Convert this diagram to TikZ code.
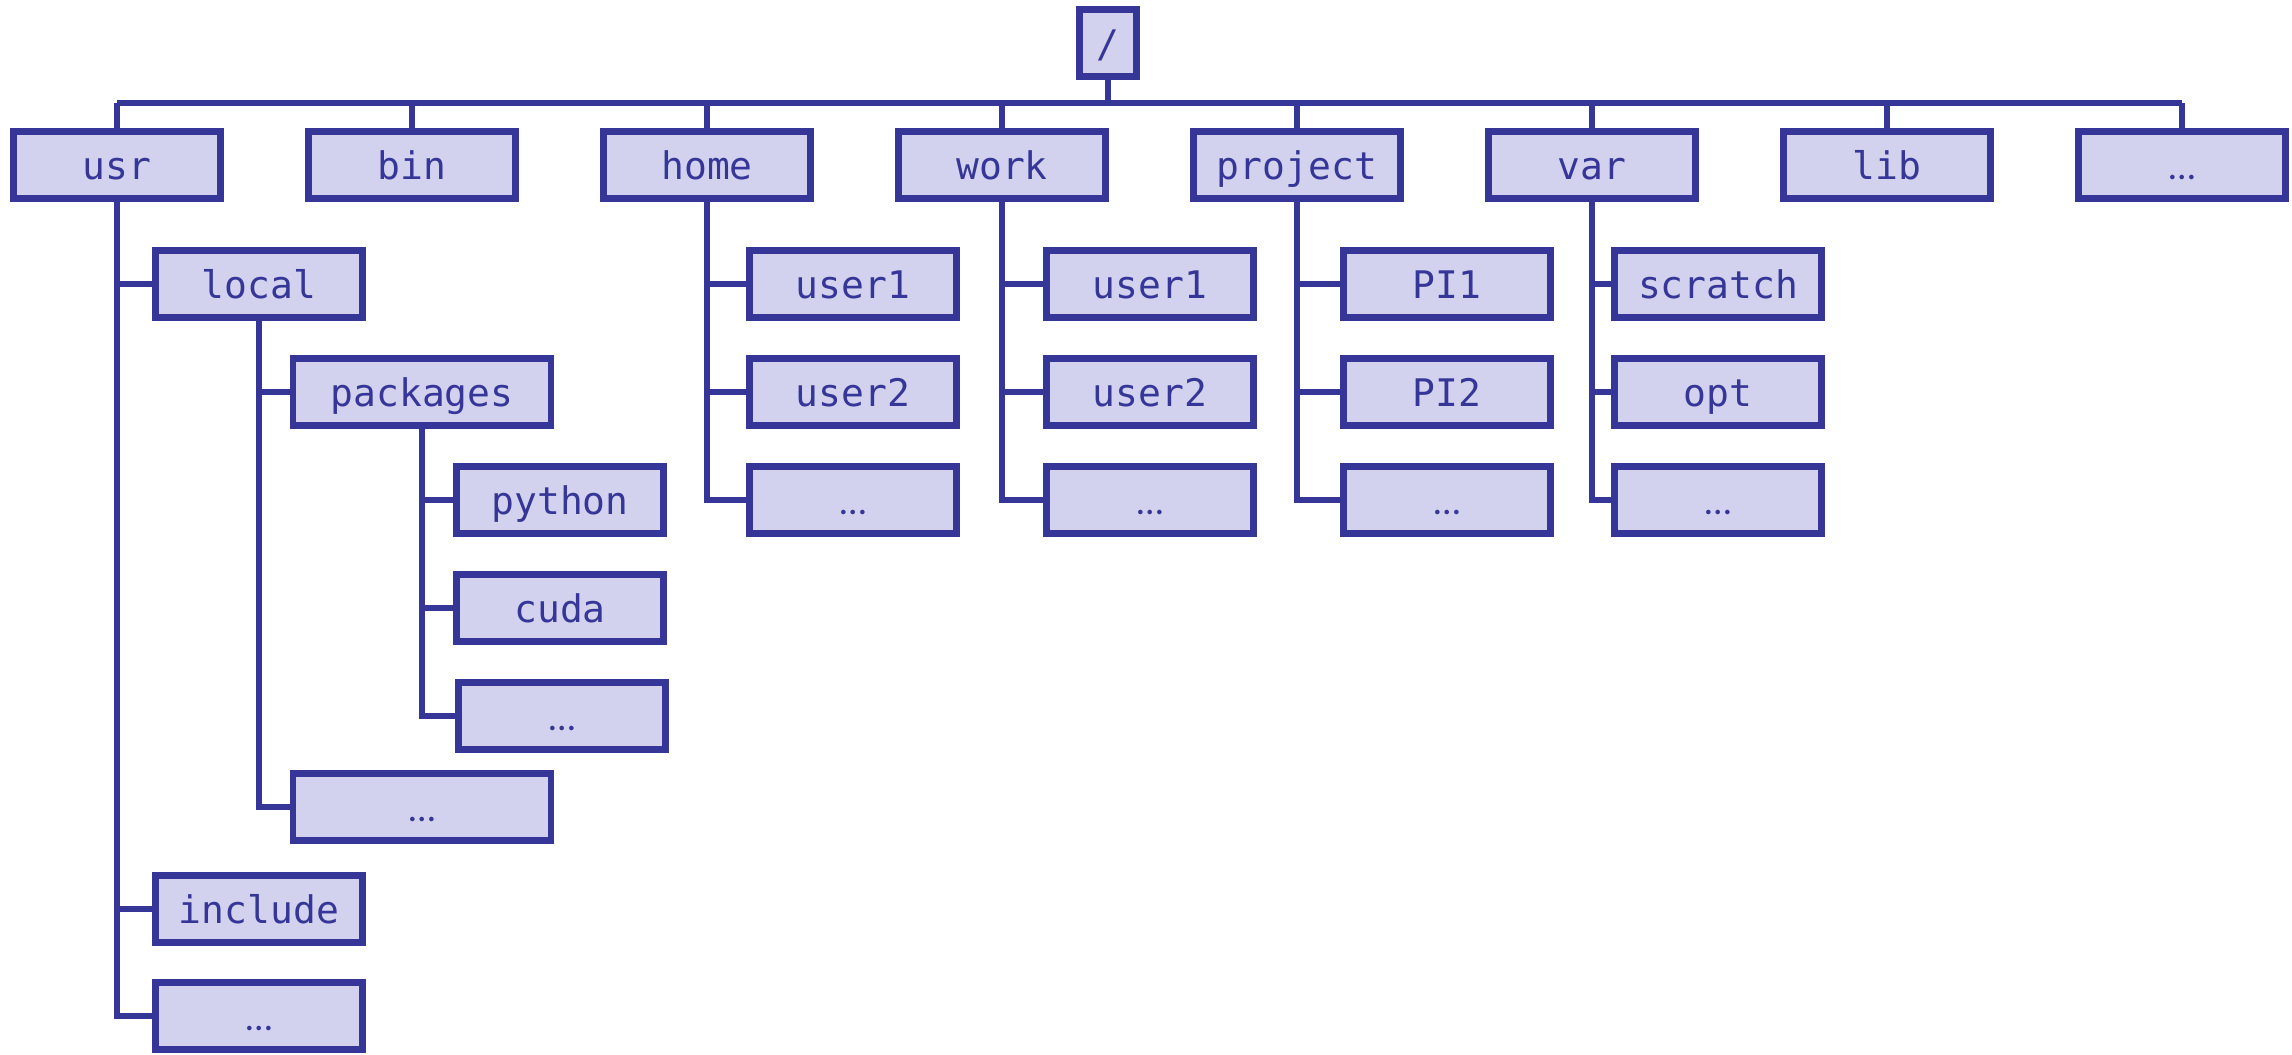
\documentclass[tikz,border=0pt]{standalone}
\usepackage{fontspec}
\setmonofont{DejaVu Sans Mono}
\newfontfamily\dotsfont{Carlito}
\newcommand{\etc}{{\dotsfont …}}
\definecolor{dirline}{HTML}{363699}
\definecolor{dirfill}{HTML}{D2D2EF}
\begin{document}
\begin{tikzpicture}[x=0.01cm,y=-0.01cm,
    dir/.style={draw=dirline,fill=dirfill,line width=0.065cm,text=dirline,
      font=\ttfamily\fontsize{10.8}{13}\selectfont,inner sep=0pt,
      text height=0.29cm,text depth=0pt,
      minimum width=2.07cm,minimum height=0.67cm},
    widedir/.style={dir,minimum width=2.58cm},
    link/.style={draw=dirline,line width=0.055cm}]
  \useasboundingbox (0,0) rectangle (2292,1054);
  \def\rowa{165} \def\bus{103}

  % root and first level
  \node (root) at (1108,43) [dir,minimum width=0.57cm] {/};
  \node (usr) at (117,\rowa) [dir] {usr};
  \node (bin) at (412,\rowa) [dir] {bin};
  \node (home) at (707,\rowa) [dir] {home};
  \node (work) at (1002,\rowa) [dir] {work};
  \node (project) at (1297,\rowa) [dir] {project};
  \node (var) at (1592,\rowa) [dir] {var};
  \node (lib) at (1887,\rowa) [dir] {lib};
  \node (more) at (2182,\rowa) [dir] {\etc};
  \coordinate (hub) at (1108,\bus);

  % usr
  \node (local) at (259,284) [dir] {local};
  \node (packages) at (422,392) [widedir] {packages};
  \node (python) at (560,500) [dir] {python};
  \node (cuda) at (560,608) [dir] {cuda};
  \node (pkgmore) at (562,716) [dir] {\etc};
  \node (localmore) at (422,807) [widedir] {\etc};
  \node (include) at (259,909) [dir] {include};
  \node (usrmore) at (259,1016) [dir] {\etc};

  % home, work, project, var
  \node (homea) at (853,284) [dir] {user1};
  \node (homeb) at (853,392) [dir] {user2};
  \node (homec) at (853,500) [dir] {\etc};
  \node (worka) at (1150,284) [dir] {user1};
  \node (workb) at (1150,392) [dir] {user2};
  \node (workc) at (1150,500) [dir] {\etc};
  \node (pia) at (1447,284) [dir] {PI1};
  \node (pib) at (1447,392) [dir] {PI2};
  \node (pic) at (1447,500) [dir] {\etc};
  \node (scratch) at (1718,284) [dir] {scratch};
  \node (opt) at (1718,392) [dir] {opt};
  \node (varmore) at (1718,500) [dir] {\etc};

  % connectors
  \draw[link] (root.south) -- (hub);
  \draw[link] (usr.north |- hub) -- (more.north |- hub);
  \foreach \d in {usr,bin,home,work,project,var,lib,more}
    \draw[link] (\d.north) -- (\d.north |- hub);

  \foreach \p/\c in {usr/local,usr/include,usr/usrmore,local/packages,local/localmore,
      packages/python,packages/cuda,packages/pkgmore,
      home/homea,home/homeb,home/homec,work/worka,work/workb,work/workc,
      project/pia,project/pib,project/pic,var/scratch,var/opt,var/varmore}
    \draw[link] (\p.south) |- (\c.west);
\end{tikzpicture}
\end{document}
